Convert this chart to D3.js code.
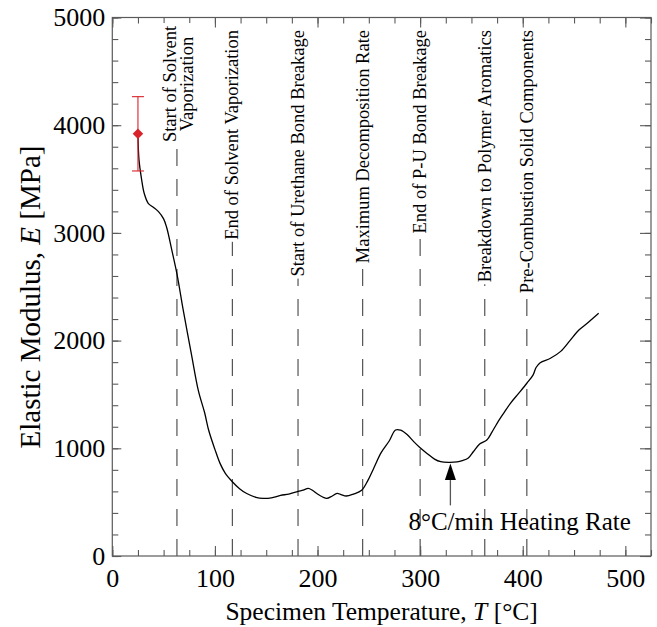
<!DOCTYPE html>
<html>
<head>
<meta charset="utf-8">
<script src="https://cdn.jsdelivr.net/npm/d3@7"></script>
<style>
  html, body { margin: 0; padding: 0; background: #fff; }
  svg { display: block; }
  svg text { font-family: "Liberation Serif", "Times New Roman", serif; }
</style>
</head>
<body>
<svg id="chart" width="657" height="627"></svg>
<script>
// Elastic modulus measured during heating at 8 °C/min
const temperature = [25, 26, 28.5, 31, 35, 40, 45, 50, 53, 58, 63, 69, 77, 84, 90, 94, 100, 105, 110, 117,
  124, 131, 140, 147, 155, 164, 172, 181, 186, 191, 195, 200, 205, 209, 214, 219, 223, 228, 235, 243,
  249, 255, 262, 270, 276, 281, 287, 294, 300, 307, 314, 320, 328, 336, 341, 347, 352, 358, 365, 370,
  375, 381, 388, 396, 404, 410, 413, 417, 427, 437, 446, 455, 464, 474];
const modulus = [3920, 3680, 3500, 3370, 3275, 3238, 3197, 3130, 3050, 2840, 2620, 2290, 1880, 1530, 1330, 1165, 990, 860, 770, 690,
  625, 580, 545, 535, 540, 563, 575, 600, 612, 628, 610, 575, 548, 535, 555, 582, 570, 557, 575, 610,
  700, 820, 960, 1070, 1170, 1168, 1130, 1060, 1005, 950, 900, 876, 870, 874, 885, 910, 970, 1040, 1077, 1150,
  1232, 1320, 1418, 1510, 1604, 1680, 1750, 1795, 1836, 1900, 2000, 2100, 2170, 2253];

// Room-temperature reference measurement with error bar
const refTemp = [25];
const refModulus = [3920];
const refError = [345];

// Decomposition events (°C)
const eventTemps = [63, 117, 181, 244, 300, 363, 404];
const eventLabels = [
  ["Start of Solvent", "Vaporization"],
  ["End of Solvent Vaporization"],
  ["Start of Urethane Bond Breakage"],
  ["Maximum Decomposition Rate"],
  ["End of P-U Bond Breakage"],
  ["Breakdown to Polymer Aromatics"],
  ["Pre-Combustion Solid Components"]
];

// Axis ticks
const xMajorTicks = [0, 100, 200, 300, 400, 500];
const xMinorTicks = d3.range(0, 526, 25);
const yMajorTicks = [0, 1000, 2000, 3000, 4000, 5000];
const yMinorTicks = d3.range(0, 5001, 200);

// Heating-rate annotation (data units)
const noteText = "8°C/min Heating Rate";
const arrowTemp = 329.5;
const arrowTipE = 860;
const arrowBaseE = 705;
const arrowTailE = 470;
const noteTemp = 397;
const noteE = 241;

const serif = "'Liberation Serif', 'Times New Roman', serif";
const svg = d3.select("#chart");
const plotLeft = 112.3, plotRight = 651, plotTop = 17.5, plotBottom = 556;

const x = d3.scaleLinear().domain([0, 525]).range([plotLeft, plotRight]);
const y = d3.scaleLinear().domain([0, 5000]).range([plotBottom, plotTop]);

const axisColor = "#5a5a5a";

// event lines (dashed, full height)
const evG = svg.append("g");
evG.selectAll("line").data(eventTemps).join("line")
  .attr("x1", d => x(d)).attr("x2", d => x(d))
  .attr("y1", plotBottom).attr("y2", plotTop)
  .attr("stroke", "#444").attr("stroke-width", 1.1)
  .attr("stroke-dasharray", "17,13");

// axes (ticks point inward)
function styleAxis(g) {
  g.attr("font-family", null).attr("font-size", null);
  g.select(".domain").remove();
  g.selectAll(".tick line").attr("stroke", axisColor).attr("stroke-width", 1.1);
  g.selectAll(".tick text").style("font-family", serif).style("font-size", "26px").attr("fill", "#000");
}
svg.append("g").attr("transform", `translate(0,${plotBottom})`)
  .call(d3.axisBottom(x).tickValues(xMinorTicks).tickSize(-6).tickFormat(""))
  .call(styleAxis);
svg.append("g").attr("transform", `translate(0,${plotBottom})`)
  .call(d3.axisBottom(x).tickValues(xMajorTicks).tickSize(-10).tickPadding(13).tickFormat(d3.format("d")))
  .call(styleAxis);

svg.append("g").attr("transform", `translate(0,${plotTop})`)
  .call(d3.axisTop(x).tickValues(xMinorTicks).tickSize(-6).tickFormat(""))
  .call(styleAxis);
svg.append("g").attr("transform", `translate(0,${plotTop})`)
  .call(d3.axisTop(x).tickValues(xMajorTicks).tickSize(-10).tickFormat(""))
  .call(styleAxis);

svg.append("g").attr("transform", `translate(${plotLeft},0)`)
  .call(d3.axisLeft(y).tickValues(yMinorTicks).tickSize(-6).tickFormat(""))
  .call(styleAxis);
svg.append("g").attr("transform", `translate(${plotLeft},0)`)
  .call(d3.axisLeft(y).tickValues(yMajorTicks).tickSize(-9).tickPadding(7).tickFormat(d3.format("d")))
  .call(styleAxis);

svg.append("g").attr("transform", `translate(${plotRight},0)`)
  .call(d3.axisRight(y).tickValues(yMinorTicks).tickSize(-6).tickFormat(""))
  .call(styleAxis);
svg.append("g").attr("transform", `translate(${plotRight},0)`)
  .call(d3.axisRight(y).tickValues(yMajorTicks).tickSize(-11).tickFormat(""))
  .call(styleAxis);

// frame
svg.append("rect")
  .attr("x", plotLeft).attr("y", plotTop)
  .attr("width", plotRight - plotLeft).attr("height", plotBottom - plotTop)
  .attr("fill", "none").attr("stroke", axisColor).attr("stroke-width", 1.2);

// event labels with white backing
eventTemps.forEach((t, i) => {
  const lines = eventLabels[i];
  const g = svg.append("g");
  let texts;
  if (lines.length === 2) {
    g.attr("transform", `translate(${x(t)},84) rotate(-90)`);
    texts = g.selectAll("text").data(lines).join("text")
      .attr("x", 0).attr("y", (d, j) => j === 0 ? -0.5 : 16.5)
      .attr("text-anchor", "middle");
  } else {
    g.attr("transform", `translate(${x(t)},30) rotate(-90)`);
    texts = g.selectAll("text").data(lines).join("text")
      .attr("x", 0).attr("y", 6)
      .attr("text-anchor", "end");
  }
  texts.style("font-size", "18.5px").attr("fill", "#000").text(d => d);
  const bb = g.node().getBBox();
  g.insert("rect", "text")
    .attr("x", bb.x - 2).attr("y", bb.y)
    .attr("width", bb.width + 4).attr("height", bb.height)
    .attr("fill", "#fff");
});

// modulus curve
const pts = temperature.map((t, i) => [t, modulus[i]]);
svg.append("path")
  .datum(pts)
  .attr("fill", "none").attr("stroke", "#000").attr("stroke-width", 1.3)
  .attr("d", d3.line().x(d => x(d[0])).y(d => y(d[1])).curve(d3.curveCatmullRom.alpha(0.5)));

// reference point with error bar
const red = "#d9232a";
refTemp.forEach((t, i) => {
  const cx = x(t);
  const e = refModulus[i], err = refError[i];
  svg.append("line").attr("x1", cx).attr("x2", cx)
    .attr("y1", y(e + err)).attr("y2", y(e - err)).attr("stroke", red).attr("stroke-width", 1.1);
  [e + err, e - err].forEach(v => {
    svg.append("line").attr("x1", cx - 6).attr("x2", cx + 6)
      .attr("y1", y(v)).attr("y2", y(v)).attr("stroke", red).attr("stroke-width", 1.1);
  });
  svg.append("path")
    .attr("transform", `translate(${cx},${y(e)})`)
    .attr("d", d3.symbol(d3.symbolDiamond2, 70)())
    .attr("fill", red);
});

// heating-rate arrow and note
const ax = x(arrowTemp);
svg.append("line").attr("x1", ax).attr("x2", ax)
  .attr("y1", y(arrowTailE)).attr("y2", y(arrowBaseE))
  .attr("stroke", "#555").attr("stroke-width", 1.3);
svg.append("path")
  .attr("d", `M${ax},${y(arrowTipE)} L${ax - 5.5},${y(arrowBaseE)} L${ax + 5.5},${y(arrowBaseE)} Z`)
  .attr("fill", "#000");
svg.append("text")
  .attr("x", x(noteTemp)).attr("y", y(noteE))
  .attr("text-anchor", "middle").style("font-size", "25px").attr("fill", "#000")
  .text(noteText);

// axis titles
const xt = svg.append("text")
  .attr("x", (plotLeft + plotRight) / 2).attr("y", 620)
  .attr("text-anchor", "middle").style("font-size", "25.5px").attr("fill", "#000");
xt.append("tspan").text("Specimen Temperature, ");
xt.append("tspan").attr("font-style", "italic").text("T");
xt.append("tspan").text(" [°C]");

const yt = svg.append("text")
  .attr("transform", `translate(40,297) rotate(-90)`)
  .attr("text-anchor", "middle").style("font-size", "29px").attr("fill", "#000");
yt.append("tspan").text("Elastic Modulus, ");
yt.append("tspan").attr("font-style", "italic").text("E");
yt.append("tspan").text(" [MPa]");
</script>
</body>
</html>
